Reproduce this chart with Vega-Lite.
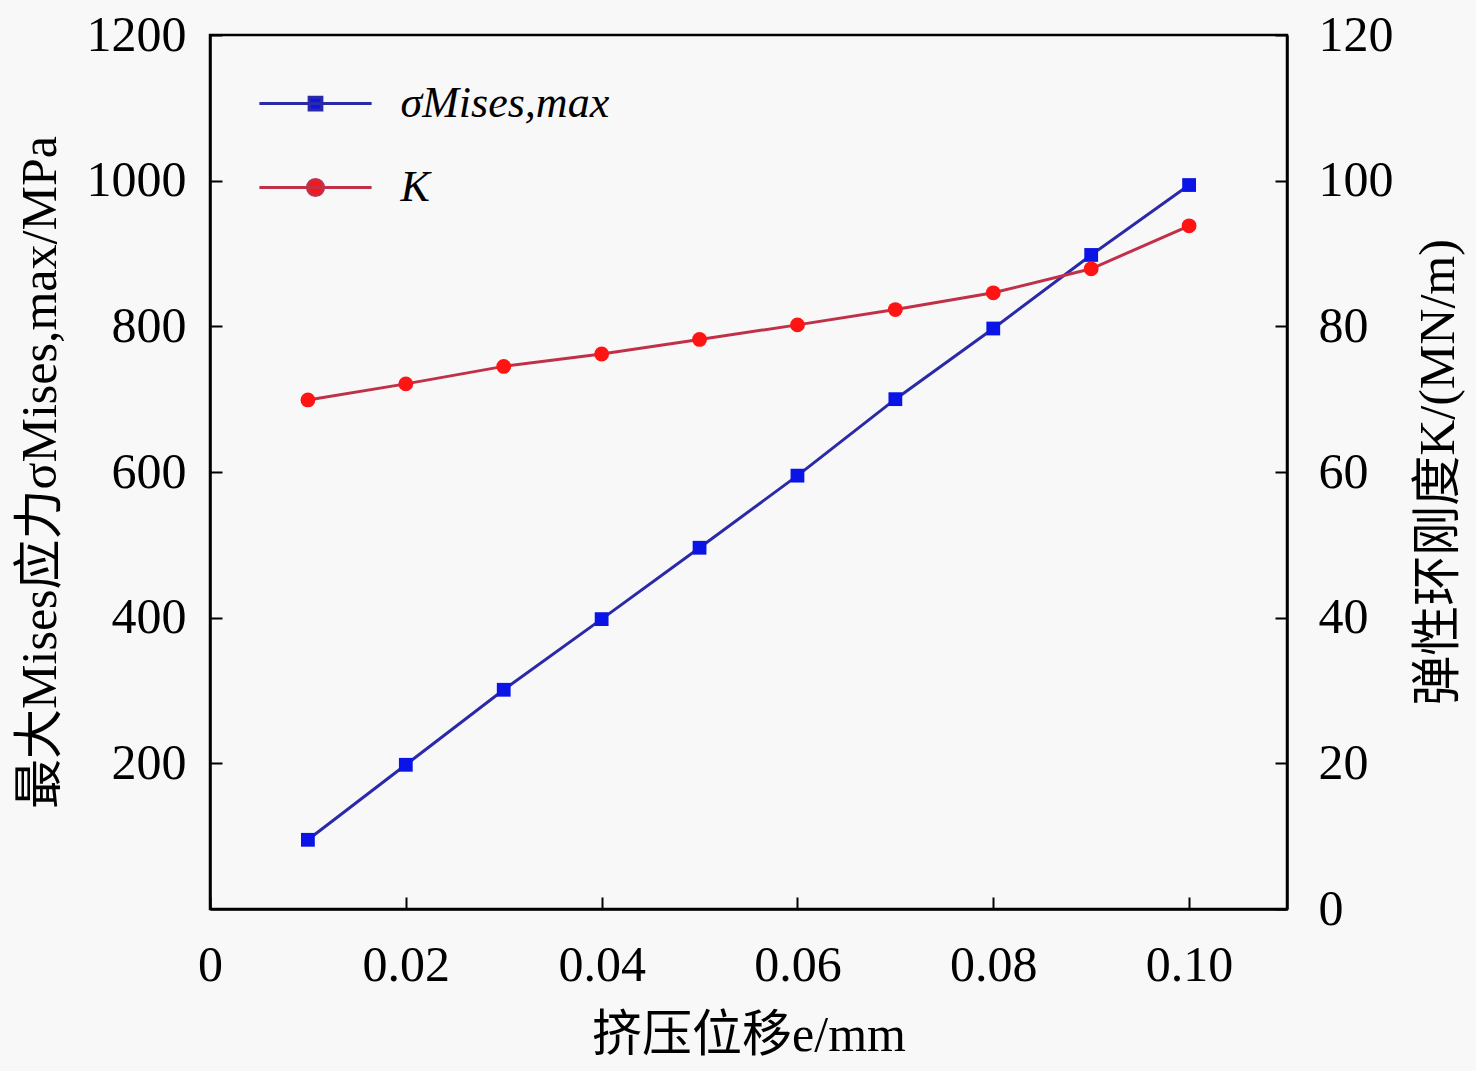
{
  "$schema": "https://vega.github.io/schema/vega-lite/v6.json",
  "width": 1077,
  "height": 874,
  "autosize": {"type": "none"},
  "padding": {"left": 210, "top": 35, "right": 189, "bottom": 162},
  "background": "#f8f8f8",
  "config": {
    "font": "Liberation Serif",
    "view": {"stroke": "black", "strokeWidth": 2.5},
    "axis": {
      "grid": false,
      "domainColor": "black",
      "domainWidth": 2.5,
      "tickColor": "black",
      "tickWidth": 2,
      "tickSize": -12,
      "labelFont": "Liberation Serif",
      "labelFontSize": 50,
      "labelColor": "black",
      "titleFont": "Liberation Serif, Noto Sans CJK SC",
      "titleFontSize": 50,
      "titleFontWeight": "normal",
      "titleColor": "black"
    }
  },
  "data": {
    "values": [
      {"e": 0.01, "sigma": 95, "K": 69.9},
      {"e": 0.02, "sigma": 198, "K": 72.1},
      {"e": 0.03, "sigma": 301, "K": 74.5},
      {"e": 0.04, "sigma": 398, "K": 76.2},
      {"e": 0.05, "sigma": 496, "K": 78.2},
      {"e": 0.06, "sigma": 595, "K": 80.2},
      {"e": 0.07, "sigma": 700, "K": 82.3},
      {"e": 0.08, "sigma": 797, "K": 84.6},
      {"e": 0.09, "sigma": 898, "K": 87.9},
      {"e": 0.10, "sigma": 994, "K": 93.8}
    ]
  },
  "encoding": {
    "x": {
      "field": "e",
      "type": "quantitative",
      "scale": {"domain": [0, 0.11], "nice": false, "zero": false},
      "axis": {
        "title": "挤压位移e/mm",
        "values": [0, 0.02, 0.04, 0.06, 0.08, 0.1],
        "labelExpr": "datum.value == 0 ? '0' : format(datum.value, '.2f')",
        "labelPadding": 43,
        "titlePadding": 20,
        "labelFlush": false
      }
    }
  },
  "layer": [
    {
      "encoding": {
        "y": {
          "field": "sigma",
          "type": "quantitative",
          "scale": {"domain": [0, 1200], "nice": false},
          "axis": {
            "orient": "left",
            "title": "最大Mises应力σMises,max/MPa",
            "values": [200, 400, 600, 800, 1000, 1200],
            "format": "d",
            "labelPadding": 36,
            "titlePadding": 21
          }
        }
      },
      "layer": [
        {
          "mark": {"type": "line", "strokeWidth": 3},
          "encoding": {
            "color": {
              "datum": "σMises,max",
              "scale": {"domain": ["σMises,max", "K"], "range": ["#2a2aa8", "#c03048"]},
              "legend": {
                "title": null,
                "orient": "none",
                "legendX": 61.5,
                "legendY": 24.5,
                "padding": 0,
                "symbolSize": 7225,
                "symbolStrokeWidth": 3,
                "labelOffset": 41,
                "labelLimit": 0,
                "labelFont": "Liberation Serif",
                "labelFontSize": 44,
                "labelFontStyle": "italic",
                "labelColor": "black",
                "rowPadding": 18,
                "encode": {
                  "symbols": {
                    "update": {
                      "shape": {"signal": "datum.value === 'K' ? 'M-1.32,0H1.32M0.19,0A0.19,0.19,0,1,1,-0.19,0A0.19,0.19,0,1,1,0.19,0Z' : 'M-1.32,0H1.32M-0.15,-0.15H0.15V0.15H-0.15Z'"},
                      "fill": {"signal": "datum.value === 'K' ? '#ff1414' : '#0a14e6'"},
                      "stroke": {"signal": "datum.value === 'K' ? '#c03048' : '#2a2aa8'"},
                      "fillOpacity": {"value": 1}
                    }
                  }
                }
              }
            }
          }
        },
        {
          "mark": {"type": "point", "shape": "square", "filled": true, "size": 190, "opacity": 1, "color": "#0a14e6"}
        }
      ]
    },
    {
      "encoding": {
        "y": {
          "field": "K",
          "type": "quantitative",
          "scale": {"domain": [0, 120], "nice": false},
          "axis": {
            "orient": "right",
            "title": "弹性环刚度K/(MN/m)",
            "titleAngle": 270,
            "titleBaseline": "top",
            "values": [0, 20, 40, 60, 80, 100, 120],
            "labelPadding": 43,
            "titlePadding": 20
          }
        }
      },
      "layer": [
        {
          "mark": {"type": "line", "strokeWidth": 3},
          "encoding": {"color": {"datum": "K"}}
        },
        {
          "mark": {"type": "point", "shape": "circle", "filled": true, "size": 220, "opacity": 1, "color": "#ff1414"}
        }
      ]
    }
  ],
  "resolve": {"scale": {"y": "independent"}}
}
